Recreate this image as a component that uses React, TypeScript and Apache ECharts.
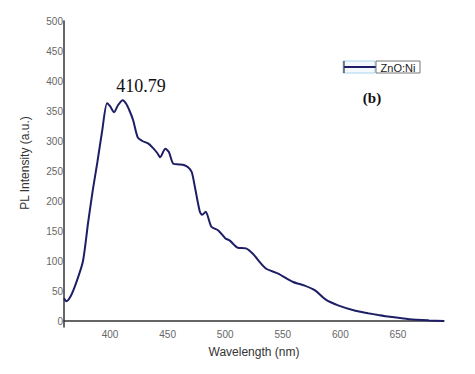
import React, { useEffect, useRef } from "react";
import * as echarts from "echarts";

const wavelengths = [360, 362, 366, 371, 376.5, 381, 385, 389, 393, 397.4, 400, 403.5, 407, 411, 414, 417, 420, 424, 428, 433, 437, 441, 443.5, 448, 451, 455, 460, 464, 468, 471, 474, 478, 480, 483, 488, 494, 500, 504, 511, 518, 524, 535, 546, 559, 569, 578, 587, 598, 613, 624, 633, 643, 660, 677, 690];
const intensities = [38, 33, 42, 66, 100, 165, 218, 265, 315, 363, 358, 348, 360, 368, 362, 350, 335, 306, 300, 296, 289, 280, 273, 287, 282, 262, 261, 260, 256, 248, 220, 182, 177, 182, 157, 151, 138, 134, 122, 121, 112, 88, 79, 65, 59, 51, 36, 26, 17, 13, 10, 7, 3, 1, 0];
const xTicks = [400, 450, 500, 550, 600, 650];
const yTicks = [0, 50, 100, 150, 200, 250, 300, 350, 400, 450, 500];
const seriesName = "ZnO:Ni";
const peakLabel = "410.79";
const panelLabel = "(b)";

export default function App() {
  const ref = useRef<HTMLDivElement>(null);
  useEffect(() => {
    if (!ref.current) return;
    const chart = echarts.init(ref.current, null, { renderer: "svg" });
    const lineColor = "#1e1e66";
    const axisColor = "#333";
    const labelColor = "#666";
    chart.setOption({
      animation: false,
      backgroundColor: "#fff",
      grid: { left: 64, right: 31, top: 21, bottom: 47, containLabel: false, outerBoundsMode: "none" },
      xAxis: {
        type: "value",
        min: 360,
        max: 690,
        name: "Wavelength (nm)",
        nameLocation: "middle",
        nameGap: 19,
        nameTextStyle: { color: "#333", fontSize: 12, fontFamily: "Liberation Sans, Arial, sans-serif" },
        axisLine: { show: true, lineStyle: { color: axisColor, width: 1.5 } },
        axisTick: { show: false },
        splitLine: { show: false },
        axisLabel: {
          customValues: xTicks,
          color: labelColor,
          fontSize: 10,
          margin: 2,
          fontFamily: "Liberation Sans, Arial, sans-serif",
        },
      },
      yAxis: {
        type: "value",
        min: -10,
        max: 500,
        axisLine: { show: true, lineStyle: { color: axisColor, width: 1.5 } },
        axisTick: { show: false },
        splitLine: { show: false },
        axisLabel: {
          customValues: yTicks,
          color: labelColor,
          fontSize: 10,
          margin: 1,
          fontFamily: "Liberation Sans, Arial, sans-serif",
        },
      },
      series: [
        {
          name: seriesName,
          type: "line",
          data: wavelengths.map((w, i) => [w, intensities[i]]),
          showSymbol: false,
          smooth: 0.25,
          lineStyle: { color: lineColor, width: 2 },
        },
      ],
      graphic: [
        {
          type: "text",
          x: 25,
          y: 163,
          rotation: Math.PI / 2,
          style: {
            text: "PL Intensity (a.u.)",
            fill: "#333",
            fontSize: 12,
            fontFamily: "Liberation Sans, Arial, sans-serif",
            align: "center",
            verticalAlign: "middle",
          },
        },
        {
          type: "text",
          x: 141,
          y: 86,
          style: {
            text: peakLabel,
            fill: "#111",
            fontSize: 18,
            fontFamily: "Liberation Serif, Times New Roman, serif",
            align: "center",
            verticalAlign: "middle",
          },
        },
        {
          type: "text",
          x: 372,
          y: 98,
          style: {
            text: panelLabel,
            fill: "#111",
            fontSize: 15,
            fontWeight: "bold",
            fontFamily: "Liberation Serif, Times New Roman, serif",
            align: "center",
            verticalAlign: "middle",
          },
        },
        {
          type: "rect",
          shape: { x: 343, y: 61, width: 32, height: 12 },
          style: { fill: "#f4f9fd", stroke: "#a8d4ee", lineWidth: 1 },
        },
        {
          type: "line",
          shape: { x1: 344, y1: 67, x2: 376, y2: 67 },
          style: { stroke: lineColor, lineWidth: 2 },
        },
        {
          type: "line",
          shape: { x1: 344, y1: 61, x2: 344, y2: 73 },
          style: { stroke: "#333", lineWidth: 1.2 },
        },
        {
          type: "rect",
          shape: { x: 376, y: 61, width: 44, height: 12 },
          style: { fill: "#fff", stroke: "#777", lineWidth: 1 },
        },
        {
          type: "text",
          x: 398,
          y: 67.5,
          style: {
            text: seriesName,
            fill: "#222",
            fontSize: 11,
            fontFamily: "Liberation Sans, Arial, sans-serif",
            align: "center",
            verticalAlign: "middle",
          },
        },
      ],
    });
    return () => chart.dispose();
  }, []);
  return <div ref={ref} style={{ width: 475, height: 374, position: "absolute", left: 0, top: 0 }} />;
}
